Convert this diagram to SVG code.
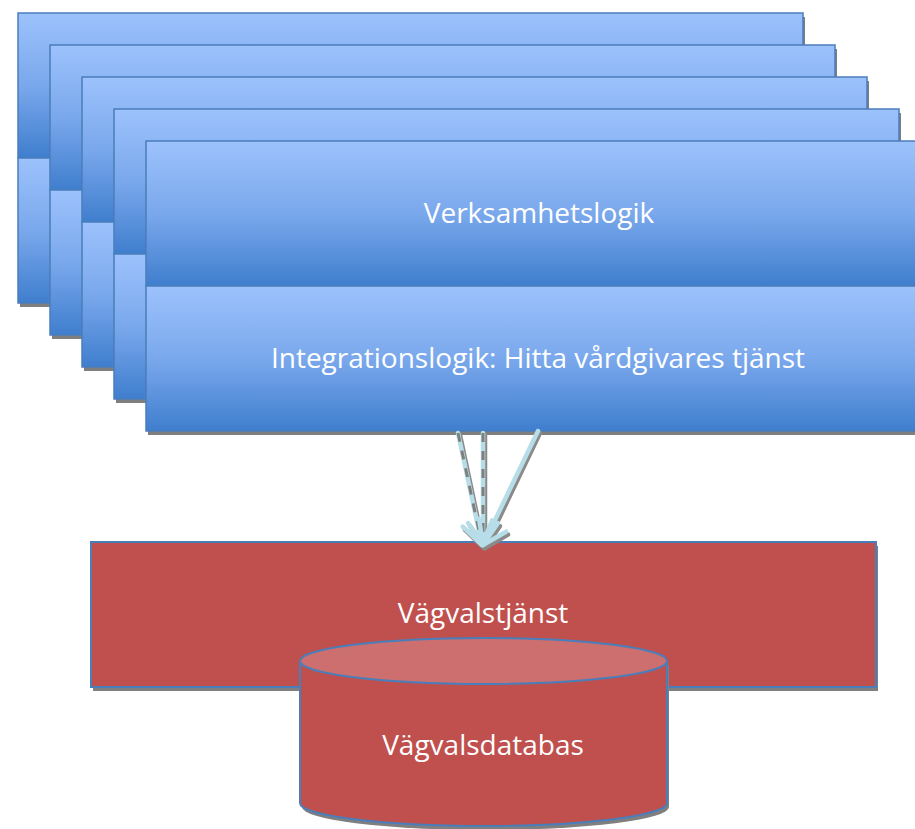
<svg xmlns="http://www.w3.org/2000/svg" width="915" height="829" viewBox="0 0 915 829">
  <defs>
    <linearGradient id="blueFill" x1="0" y1="0" x2="0" y2="1">
      <stop offset="0" stop-color="#9CC2FC"/>
      <stop offset="0.5" stop-color="#7AA8EC"/>
      <stop offset="1" stop-color="#3F7ECE"/>
    </linearGradient>
    <marker id="openHead" viewBox="-30 -20 34 40" markerWidth="34" markerHeight="40" refX="0" refY="0" orient="auto" markerUnits="userSpaceOnUse">
      <path d="M-22,-15 L0,0 L-22,15" fill="none" stroke="#B7DEE8" stroke-width="4.5" stroke-linecap="round" stroke-linejoin="round"/>
    </marker>
    <marker id="openHeadShadow" viewBox="-30 -20 34 40" markerWidth="34" markerHeight="40" refX="0" refY="0" orient="auto" markerUnits="userSpaceOnUse">
      <path d="M-22,-15 L0,0 L-22,15" fill="none" stroke="#8A8A8A" stroke-width="4.5" stroke-linecap="round" stroke-linejoin="round"/>
    </marker>
  </defs>
  <style>
    .shadow { fill: #7F7F7F; }
    .half { fill: url(#blueFill); stroke: #4A7EBB; stroke-width: 1.5; }
    .red { fill: #C0504D; stroke: #4A7EBB; stroke-width: 2; }
    .lbl { font-family: "Open Sans", "Liberation Sans", sans-serif; font-size: 28px; fill: #FFFFFF; text-anchor: middle; }
    .line { fill: none; stroke: #B7DEE8; stroke-width: 4.5; stroke-linecap: round; }
    .dash { fill: none; stroke: #7F7F7F; stroke-width: 3; stroke-dasharray: 9 9; }
    .lineShadow { fill: none; stroke: #8A8A8A; stroke-width: 4.5; stroke-linecap: round; }
  </style>

  <rect width="915" height="829" fill="#FFFFFF"/>

  <!-- stacked application layers, back to front -->
  <g id="layer1">
    <rect class="shadow" x="20" y="17" width="785" height="290"/>
    <rect class="half" x="18" y="13" width="785" height="145"/>
    <rect class="half" x="18" y="158" width="785" height="145"/>
  </g>
  <g id="layer2">
    <rect class="shadow" x="52" y="49" width="785" height="290"/>
    <rect class="half" x="50" y="45" width="785" height="145"/>
    <rect class="half" x="50" y="190" width="785" height="145"/>
  </g>
  <g id="layer3">
    <rect class="shadow" x="84" y="81" width="785" height="290"/>
    <rect class="half" x="82" y="77" width="785" height="145"/>
    <rect class="half" x="82" y="222" width="785" height="145"/>
  </g>
  <g id="layer4">
    <rect class="shadow" x="116" y="113" width="785" height="290"/>
    <rect class="half" x="114" y="109" width="785" height="145"/>
    <rect class="half" x="114" y="254" width="785" height="145"/>
  </g>
  <g id="layer5">
    <rect class="shadow" x="148" y="145" width="785" height="290"/>
    <rect class="half" x="146" y="141" width="785" height="145"/>
    <rect class="half" x="146" y="286" width="785" height="145"/>
    <text class="lbl" x="539" y="223">Verksamhetslogik</text>
    <text class="lbl" x="538" y="368">Integrationslogik: Hitta vårdgivares tjänst</text>
  </g>

  <!-- routing service -->
  <g id="routingService">
    <rect class="shadow" x="93" y="546" width="785" height="145"/>
    <rect class="red" x="91" y="542" width="785" height="145"/>
    <text class="lbl" x="483" y="623">Vägvalstjänst</text>
  </g>

  <!-- routing database -->
  <g id="routingDatabase">
    <path class="shadow" d="M302,665 L302,807 A183.5,23 0 0 0 669,807 L669,665 Z"/>
    <path d="M300,661 L300,803 A183.5,23 0 0 0 667,803 L667,661" fill="#C0504D" stroke="#4A7EBB" stroke-width="2"/>
    <ellipse cx="483.5" cy="661" rx="183.5" ry="23" fill="#CC6F6E" stroke="#4A7EBB" stroke-width="2"/>
    <text class="lbl" x="483" y="755">Vägvalsdatabas</text>
  </g>

  <!-- calls from the integration layer down to the routing service -->
  <g id="connectors">
    <line class="lineShadow" x1="460" y1="435" x2="484" y2="548" marker-end="url(#openHeadShadow)"/>
    <line class="lineShadow" x1="485" y1="435" x2="485" y2="548" marker-end="url(#openHeadShadow)"/>
    <line class="lineShadow" x1="540" y1="433" x2="485" y2="548" marker-end="url(#openHeadShadow)"/>

    <line class="line" x1="458" y1="433" x2="482" y2="545" marker-end="url(#openHead)"/>
    <line class="dash" x1="458" y1="433" x2="481" y2="540"/>
    <line class="line" x1="483" y1="433" x2="483" y2="545" marker-end="url(#openHead)"/>
    <line class="dash" x1="483" y1="433" x2="483" y2="540"/>
    <line class="line" x1="538" y1="431" x2="483" y2="545" marker-end="url(#openHead)"/>
  </g>
</svg>
